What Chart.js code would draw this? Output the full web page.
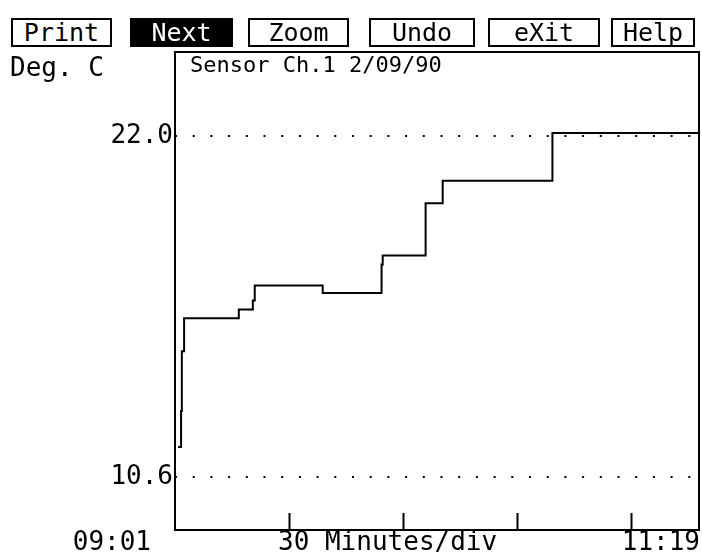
<!DOCTYPE html>
<html>
<head>
<meta charset="utf-8">
<script src="https://cdn.jsdelivr.net/npm/chart.js@4.4.0/dist/chart.umd.min.js"></script>
<style>
  html, body { margin: 0; padding: 0; background: #fff; }
  #wrap { position: relative; width: 702px; height: 552px; overflow: hidden; }
  #chart2 { position: absolute; left: 0; top: 0; }
  .btn {
    position: absolute; top: 18px; height: 29px; box-sizing: border-box;
    border: 2px solid #000; color: #000; background: #fff;
    font: 25px "DejaVu Sans Mono", monospace; line-height: 25px; text-align: center;
  }
  .btn.on { background: #000; color: #fff; }
</style>
</head>
<body>
<div id="wrap">
  <canvas id="chart2" width="702" height="552"></canvas>
</div>
<script>
// values: minutes after 09:01 where the reading changes, and the new reading
const minutes = [0.8, 1.6, 1.8, 2.4, 16.8, 20.5, 21.0, 38.9, 54.4, 54.7, 66.0, 70.5, 99.4, 138];
const degC    = [11.6, 12.8, 14.8, 15.9, 16.2, 16.5, 17.0, 16.75, 17.7, 18.0, 19.75, 20.5, 22.1, 22.1];
const yTicks = [10.6, 22.0];
const xTickMinutes = [30, 60, 90, 120];
const startLabel = '09:01';
const endLabel = '11:19';
const scaleLabel = '30 Minutes/div';
const titleText = 'Sensor Ch.1 2/09/90';
const unitText = 'Deg. C';
const buttonLabels = ['Print', 'Next', 'Zoom', 'Undo', 'eXit', 'Help'];

// button boxes (left, width) across the top row
const btnLeft = [11, 130, 248, 369, 488, 611];
const btnWidth = [101, 103, 101, 106, 112, 84];
const wrap = document.getElementById('wrap');
buttonLabels.forEach((t, i) => {
  const d = document.createElement('div');
  d.className = 'btn' + (t === 'Next' ? ' on' : '');
  d.style.left = btnLeft[i] + 'px';
  d.style.width = btnWidth[i] + 'px';
  d.textContent = t;
  wrap.appendChild(d);
});

const mono = '"DejaVu Sans Mono", monospace';

const frame = {
  id: 'frame',
  afterDraw(chart) {
    const ctx = chart.ctx, a = chart.chartArea, x = chart.scales.x;
    ctx.save();
    ctx.strokeStyle = '#000';
    ctx.lineWidth = 2;
    ctx.strokeRect(a.left, a.top, a.right - a.left, a.bottom - a.top);
    // inner tick marks every 30 minutes
    ctx.beginPath();
    xTickMinutes.forEach(m => {
      const px = Math.round(x.getPixelForValue(m)) + 0.5;
      ctx.moveTo(px, a.bottom);
      ctx.lineTo(px, a.bottom - 17);
    });
    ctx.stroke();

    ctx.fillStyle = '#000';
    ctx.textBaseline = 'middle';
    ctx.font = '22px ' + mono;
    ctx.textAlign = 'left';
    ctx.fillText(titleText, a.left + 15, a.top + 14);
    ctx.font = '26px ' + mono;
    ctx.fillText(unitText, 10, 69);
    ctx.fillText(scaleLabel, 278, 543);
    ctx.textAlign = 'right';
    ctx.fillText(startLabel, 151, 543);
    ctx.fillText(endLabel, 700, 543);
    ctx.restore();
  }
};

new Chart(document.getElementById('chart2'), {
  type: 'line',
  data: {
    datasets: [{
      data: minutes.map((m, i) => ({ x: m, y: degC[i] })),
      borderColor: '#000',
      borderWidth: 2,
      pointRadius: 0,
      stepped: true,
      fill: false
    }]
  },
  options: {
    responsive: false,
    animation: false,
    layout: { padding: { top: 52, right: 3, left: 0, bottom: 0 } },
    plugins: { legend: { display: false }, tooltip: { enabled: false } },
    scales: {
      x: {
        type: 'linear', min: 0, max: 138,
        ticks: { display: false },
        grid: { display: false },
        border: { display: false },
        afterFit: s => { s.height = 22; }
      },
      y: {
        min: 8.82, max: 24.81,
        afterBuildTicks: s => { s.ticks = yTicks.map(v => ({ value: v })); },
        ticks: {
          font: { family: mono, size: 26 }, color: '#000', padding: 2,
          callback: v => v.toFixed(1)
        },
        grid: { color: '#000', lineWidth: 2, drawTicks: false },
        border: { display: false, dash: [2, 15.7] },
        afterFit: s => { s.width = 175; }
      }
    }
  },
  plugins: [frame]
});
</script>
</body>
</html>
